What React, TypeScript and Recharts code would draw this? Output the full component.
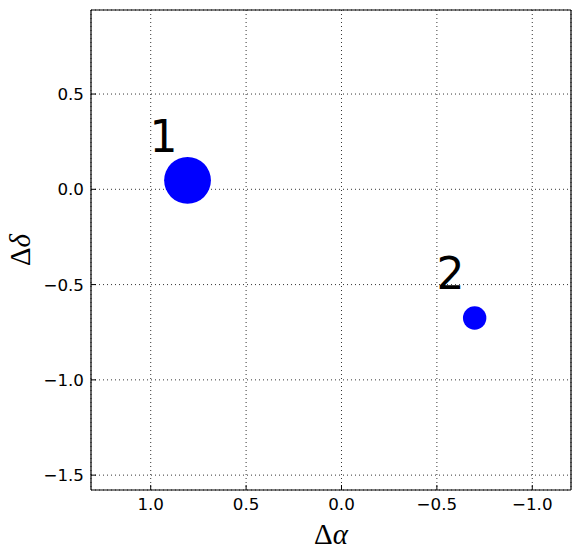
import React from 'react';
import { ScatterChart, Scatter, XAxis, YAxis, ZAxis, CartesianGrid, Label } from 'recharts';

const sourceIds = ['1', '2'];
const deltaAlpha = [0.807, -0.698];
const deltaDelta = [0.047, -0.675];
const relFlux = [4, 1];
const labelOffset = [0.2, 0.15];
const xTicks = [1.0, 0.5, 0.0, -0.5, -1.0];
const yTicks = [0.5, 0.0, -0.5, -1.0, -1.5];
const xDomain = [-1.203, 1.313];
const yDomain = [-1.578, 0.941];

const points = sourceIds.map((id, i) => ({ id, x: deltaAlpha[i], y: deltaDelta[i], z: relFlux[i] }));
const labels = sourceIds.map((id, i) => ({ id, x: deltaAlpha[i] + labelOffset[0], y: deltaDelta[i] + labelOffset[1] }));

const fmt = (v: number) => (v < 0 ? '\u2212' : '') + Math.abs(v).toFixed(1);

const tickFont = { fill: '#000', fontSize: 16.7, fontFamily: 'DejaVu Sans' };
const axisLine = { stroke: '#000', strokeWidth: 1.2 };
const tickLine = { stroke: '#000', strokeWidth: 1 };

const XLabel = (props: any) => {
  const vb = props.viewBox;
  return (
    <text x={vb.x + vb.width / 2} y={544} textAnchor="middle" fontFamily="Liberation Serif" fontSize={29} fill="#000">
      <tspan>Δ</tspan>
      <tspan fontStyle="italic">α</tspan>
    </text>
  );
};

const YLabel = (props: any) => {
  const vb = props.viewBox;
  const cy = vb.y + vb.height / 2;
  return (
    <text x={30} y={cy} textAnchor="middle" transform={`rotate(-90, 30, ${cy})`} fontFamily="Liberation Serif" fontSize={29} fill="#000">
      <tspan>Δ</tspan>
      <tspan fontStyle="italic">δ</tspan>
    </text>
  );
};

const LabelShape = (p: any) => (
  <text x={p.cx} y={p.cy} fontFamily="DejaVu Sans" fontSize={44} fill="#000">
    {p.payload.id}
  </text>
);

export default function App() {
  return (
    <div style={{ position: 'absolute', left: 0, top: 0 }}>
      <ScatterChart width={580} height={558} margin={{ top: 0, right: 0, bottom: 28, left: 31 }} style={{ background: '#fff' }}>
        <CartesianGrid stroke="#000" strokeWidth={0.8} strokeDasharray="1 3" />
        <XAxis xAxisId={0} type="number" dataKey="x" domain={xDomain} reversed allowDataOverflow ticks={xTicks} interval={0}
          tickFormatter={fmt} tickSize={-5} tickMargin={13} height={40} axisLine={axisLine} tickLine={tickLine} tick={tickFont}>
          <Label content={XLabel} />
        </XAxis>
        <XAxis xAxisId="top" orientation="top" type="number" dataKey="x" domain={xDomain} reversed allowDataOverflow ticks={xTicks} interval={0}
          tickSize={-5} height={10} axisLine={axisLine} tickLine={tickLine} tick={false} />
        <YAxis yAxisId={0} type="number" dataKey="y" domain={yDomain} allowDataOverflow ticks={yTicks} interval={0}
          tickFormatter={fmt} tickSize={-5} tickMargin={12} width={60} axisLine={axisLine} tickLine={tickLine} tick={tickFont}>
          <Label content={YLabel} />
        </YAxis>
        <YAxis yAxisId="right" orientation="right" type="number" dataKey="y" domain={yDomain} allowDataOverflow ticks={yTicks} interval={0}
          tickSize={-5} width={9} axisLine={axisLine} tickLine={tickLine} tick={false} />
        <ZAxis dataKey="z" type="number" domain={[0, 4]} range={[0, 1720]} />
        <Scatter data={points} xAxisId={0} yAxisId={0} fill="#0000ff" isAnimationActive={false} />
        <Scatter data={labels} xAxisId={0} yAxisId={0} shape={LabelShape} isAnimationActive={false} />
      </ScatterChart>
    </div>
  );
}
